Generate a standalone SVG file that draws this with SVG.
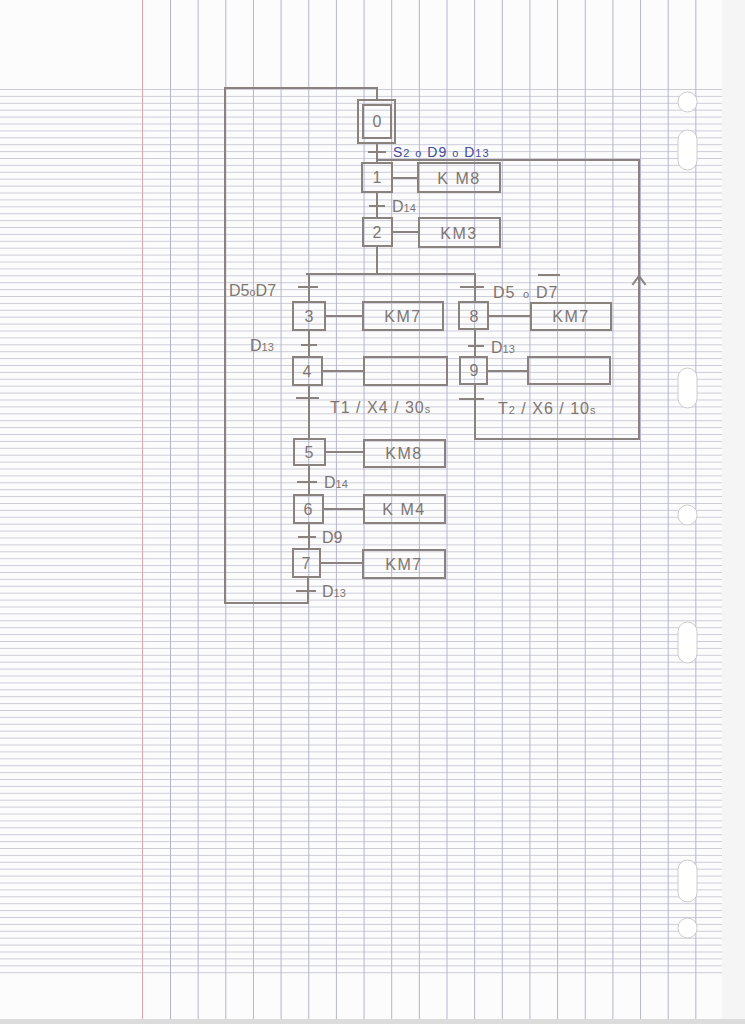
<svg xmlns="http://www.w3.org/2000/svg" width="745" height="1024" viewBox="0 0 745 1024">
<defs>
<pattern id="hl" x="0" y="89" width="745" height="6.9" patternUnits="userSpaceOnUse">
<line x1="0" y1="0.5" x2="745" y2="0.5" stroke="#cdcdda" stroke-width="1"/>
</pattern>
<pattern id="vl" x="170" y="0" width="27.65" height="1024" patternUnits="userSpaceOnUse">
<line x1="0.5" y1="0" x2="0.5" y2="1024" stroke="#b4b4d0" stroke-width="1"/>
</pattern>
<style>
.p{fill:none;stroke:#8a827e;stroke-width:2;stroke-linecap:square}
.b{fill:none;stroke:#8a827e;stroke-width:2}
.t{font-family:"Liberation Sans",Arial,sans-serif;fill:#7e7672;font-size:16px}
.n{font-family:"Liberation Sans",Arial,sans-serif;fill:#7e7672;font-size:16px;text-anchor:middle}
.a{font-family:"Liberation Sans",Arial,sans-serif;fill:#7e7672;font-size:16px;text-anchor:middle;letter-spacing:1.5px}
.s{font-size:11px}
</style>
</defs>
<rect x="0" y="0" width="745" height="1024" fill="#fcfcfc"/>
<rect x="722" y="0" width="23" height="1024" fill="#f5f5f5"/>
<rect x="0" y="88" width="722" height="888" fill="url(#hl)"/>
<rect x="170" y="0" width="540" height="1024" fill="url(#vl)"/>
<line x1="142.5" y1="0" x2="142.5" y2="1024" stroke="#e2a4ac" stroke-width="1"/>
<rect x="0" y="1019" width="745" height="5" fill="#dcdcdc"/>
<g id="holes" fill="#ffffff" stroke="#cccccc" stroke-width="1">
<rect x="678" y="92" width="19" height="20" rx="9.5"/>
<rect x="678" y="130" width="19" height="40" rx="9.5"/>
<rect x="678" y="368" width="19" height="40" rx="9.5"/>
<rect x="678" y="505" width="19" height="20" rx="9.5"/>
<rect x="678" y="622" width="19" height="41" rx="9.5"/>
<rect x="678" y="860" width="19" height="42" rx="9.5"/>
<rect x="678" y="918" width="19" height="20" rx="9.5"/>
</g>
<g id="connectors">
<path class="p" d="M308,577 V603 H225 V88 H377 V100"/>
<path class="p" d="M377,143 V163"/>
<path class="p" d="M377,192 V218"/>
<path class="p" d="M377,246 V274"/>
<path class="p" d="M307,274 H475"/>
<path class="p" d="M309,274 V302"/>
<path class="p" d="M309,330 V357"/>
<path class="p" d="M309,385 V439"/>
<path class="p" d="M309,465 V495"/>
<path class="p" d="M309,523 V549"/>
<path class="p" d="M475,274 V302"/>
<path class="p" d="M475,329 V357"/>
<path class="p" d="M475,384 V439 H639 V160 H377"/>
<polyline class="p" points="633,284 639,276 645,284" stroke-linecap="round"/>
<g id="transitions">
<path class="p" d="M369,152 H385"/>
<path class="p" d="M370,206 H384"/>
<path class="p" d="M299,287 H317"/>
<path class="p" d="M461,287 H483"/>
<path class="p" d="M302,345 H316"/>
<path class="p" d="M469,346 H483"/>
<path class="p" d="M297,398 H318"/>
<path class="p" d="M460,399 H483"/>
<path class="p" d="M298,482 H316"/>
<path class="p" d="M299,537 H315"/>
<path class="p" d="M297,591 H315"/>
</g>
<g id="actionlinks">
<path class="p" d="M392,178 H418"/>
<path class="p" d="M392,232 H419"/>
<path class="p" d="M325,316 H363"/>
<path class="p" d="M322,371 H364"/>
<path class="p" d="M325,452 H364"/>
<path class="p" d="M323,509 H364"/>
<path class="p" d="M320,563 H363"/>
<path class="p" d="M488,316 H531"/>
<path class="p" d="M487,371 H528"/>
</g>
</g>
<g id="labels">
<text x="393" y="157" font-family="Liberation Sans,Arial,sans-serif" font-size="14" letter-spacing="1" fill="#3e4c9c">S<tspan class="s">2</tspan> <tspan class="s">o</tspan> D9 <tspan class="s">o</tspan> D<tspan class="s">13</tspan></text>
<text class="t" x="392" y="212">D<tspan class="s">14</tspan></text>
<text class="t" x="229" y="296">D5<tspan class="s">o</tspan>D7</text>
<text class="t" x="493" y="298" letter-spacing="1">D5</text>
<text class="t s" x="523" y="298">o</text>
<text class="t" x="536" y="298" letter-spacing="1">D7</text>
<path class="p" d="M539,275 H559" stroke-width="1.5"/>
<text class="t" x="250" y="351">D<tspan class="s">13</tspan></text>
<text class="t" x="491" y="353">D<tspan class="s">13</tspan></text>
<text class="t" x="330" y="413" letter-spacing="1">T1 / X4 / 30<tspan class="s">s</tspan></text>
<text class="t" x="498" y="414" letter-spacing="1">T<tspan class="s">2</tspan> / X6 / 10<tspan class="s">s</tspan></text>
<text class="t" x="324" y="488">D<tspan class="s">14</tspan></text>
<text class="t" x="322" y="543">D9</text>
<text class="t" x="322" y="597">D<tspan class="s">13</tspan></text>
</g>
<g id="step0"><rect class="b" x="358" y="100" width="37" height="43"/><rect class="b" x="363" y="105" width="28" height="33"/><text class="n" x="377" y="127">0</text></g>
<g id="step1"><rect class="b" x="362" y="163" width="30" height="29"/><text class="n" x="377" y="183">1</text></g>
<g id="action1"><rect class="b" x="418" y="163" width="82" height="29"/><text class="a" x="459" y="184">K M8</text></g>
<g id="step2"><rect class="b" x="363" y="218" width="29" height="28"/><text class="n" x="377" y="238">2</text></g>
<g id="action2"><rect class="b" x="419" y="218" width="81" height="29"/><text class="a" x="459" y="239">KM3</text></g>
<g id="step3"><rect class="b" x="293" y="302" width="32" height="28"/><text class="n" x="309" y="322">3</text></g>
<g id="action3"><rect class="b" x="363" y="302" width="80" height="28"/><text class="a" x="403" y="322">KM7</text></g>
<g id="step4"><rect class="b" x="293" y="357" width="29" height="28"/><text class="n" x="307" y="377">4</text></g>
<g id="action4"><rect class="b" x="364" y="357" width="83" height="28"/></g>
<g id="step5"><rect class="b" x="294" y="439" width="31" height="26"/><text class="n" x="309" y="458">5</text></g>
<g id="action5"><rect class="b" x="364" y="440" width="81" height="27"/><text class="a" x="404" y="459">KM8</text></g>
<g id="step6"><rect class="b" x="294" y="495" width="29" height="28"/><text class="n" x="308" y="515">6</text></g>
<g id="action6"><rect class="b" x="364" y="495" width="81" height="28"/><text class="a" x="404" y="515">K M4</text></g>
<g id="step7"><rect class="b" x="293" y="549" width="27" height="28" stroke-width="2.6"/><text class="n" x="306" y="569">7</text></g>
<g id="action7"><rect class="b" x="363" y="550" width="82" height="28"/><text class="a" x="404" y="570">KM7</text></g>
<g id="step8"><rect class="b" x="459" y="302" width="29" height="27"/><text class="n" x="474" y="322">8</text></g>
<g id="action8"><rect class="b" x="531" y="303" width="80" height="27"/><text class="a" x="571" y="322">KM7</text></g>
<g id="step9"><rect class="b" x="460" y="357" width="27" height="27"/><text class="n" x="474" y="376">9</text></g>
<g id="action9"><rect class="b" x="528" y="357" width="82" height="27"/></g>
</svg>
